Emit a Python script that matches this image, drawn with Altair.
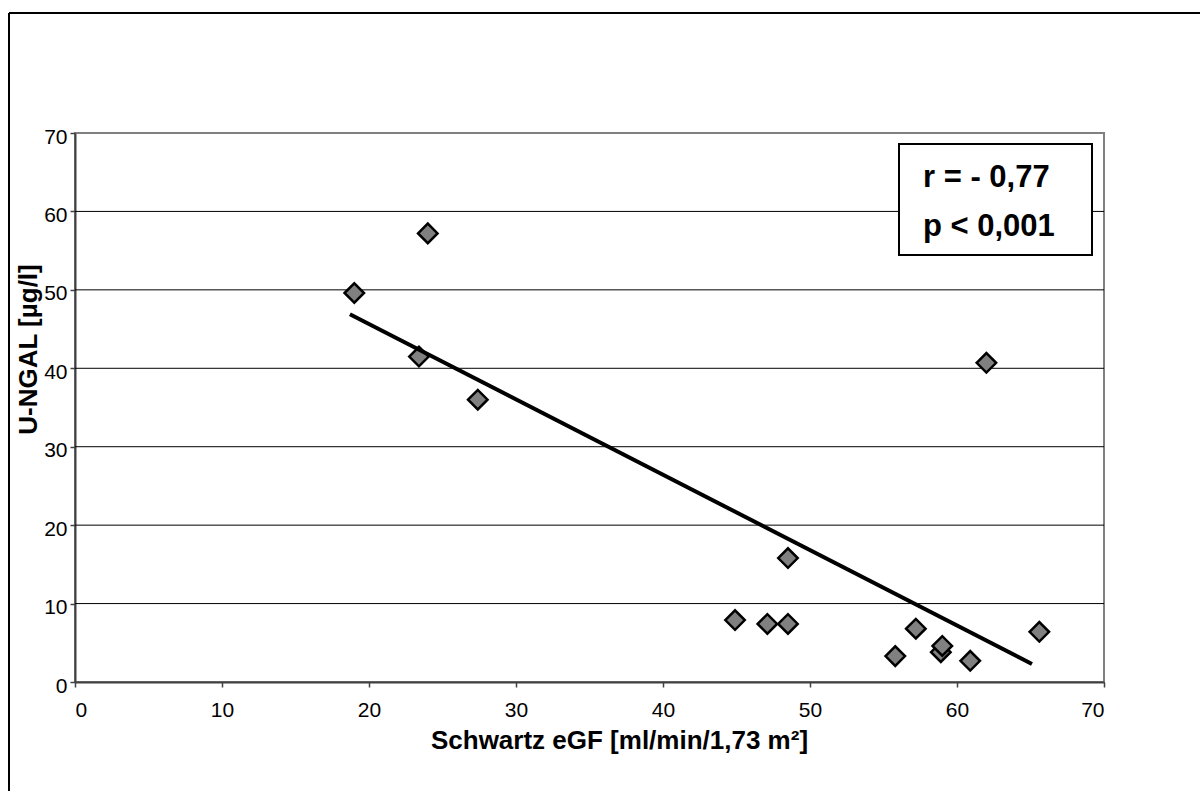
import altair as alt
import pandas as pd

# Data
egf = [19.0, 24.0, 23.4, 27.4, 44.9, 47.1, 48.5, 48.5, 55.8, 57.2, 58.9, 59.0, 60.9, 62.0, 65.6]
ngal = [49.6, 57.2, 41.5, 36.0, 7.9, 7.4, 7.4, 15.8, 3.3, 6.8, 3.8, 4.6, 2.7, 40.7, 6.4]
trend_x = [18.7, 65.1]
trend_y = [46.9, 2.3]
grid_levels = [10, 20, 30, 40, 50, 60]
tick_values = [0, 10, 20, 30, 40, 50, 60, 70]
stat_lines = ["r = - 0,77", "p < 0,001"]

FONT = "Liberation Sans"
W, H = 1029, 549

pts = pd.DataFrame({"x": egf, "y": ngal})
trend = pd.DataFrame({"x": trend_x, "y": trend_y})
grid = pd.DataFrame({"y": grid_levels})
one = pd.DataFrame({"a": [0]})

xscale = alt.Scale(domain=[0, 70], nice=False, zero=False)
yscale = alt.Scale(domain=[0, 70], nice=False, zero=False)

xaxis = alt.Axis(
    values=tick_values, grid=False, domainColor="#404040", domainWidth=2,
    tickColor="#404040", tickSize=5, tickWidth=1.5,
    labelFont=FONT, labelFontSize=21, labelColor="black", labelPadding=12,
    title="Schwartz eGF [ml/min/1,73 m²]", titleFont=FONT, titleFontSize=26,
    titleFontWeight="bold", titleColor="black", titleX=544, titleY=66,
    titleAlign="center", titleBaseline="alphabetic",
)
yaxis = alt.Axis(
    values=tick_values, grid=False, domainColor="#404040", domainWidth=2,
    tickColor="#404040", tickSize=5, tickWidth=1.5,
    labelFont=FONT, labelFontSize=21, labelColor="black", labelPadding=3,
    labelOffset=4,
    title="U-NGAL [µg/l]", titleFont=FONT, titleFontSize=26,
    titleFontWeight="bold", titleColor="black", titleAngle=270,
    titleX=-47, titleY=216, titleAlign="center", titleBaseline="middle",
)

gridlines = alt.Chart(grid).mark_rule(color="black", strokeWidth=1).encode(
    y=alt.Y("y:Q", scale=yscale, axis=yaxis)
)

points = alt.Chart(pts).mark_point(
    shape="diamond", filled=True, fill="#808080", stroke="black",
    strokeWidth=2.5, size=380, opacity=1
).encode(
    x=alt.X("x:Q", scale=xscale, axis=xaxis),
    y=alt.Y("y:Q", scale=yscale, axis=yaxis),
)

line = alt.Chart(trend).mark_line(color="black", strokeWidth=4).encode(
    x=alt.X("x:Q", scale=xscale),
    y=alt.Y("y:Q", scale=yscale),
)

box = alt.Chart(one).mark_rect(fill="white", stroke="black", strokeWidth=2).encode(
    x=alt.value(824), x2=alt.value(1017), y=alt.value(11), y2=alt.value(122)
)

t1 = alt.Chart(one).mark_text(
    text=stat_lines[0], align="left", baseline="alphabetic",
    font=FONT, fontSize=31, fontWeight="bold", color="black"
).encode(x=alt.value(848), y=alt.value(54))
t2 = alt.Chart(one).mark_text(
    text=stat_lines[1], align="left", baseline="alphabetic",
    font=FONT, fontSize=31, fontWeight="bold", color="black"
).encode(x=alt.value(848), y=alt.value(103))

frame_left = alt.Chart(one).mark_rule(color="black", strokeWidth=2).encode(
    x=alt.value(-66), y=alt.value(-120), y2=alt.value(700)
)
frame_top = alt.Chart(one).mark_rule(color="black", strokeWidth=2).encode(
    x=alt.value(-66), x2=alt.value(1200), y=alt.value(-120)
)

chart = alt.layer(
    gridlines, points, line, box, t1, t2, frame_left, frame_top
).properties(
    width=W, height=H,
    autosize=alt.AutoSizeParams(type="none"),
    padding={"left": 75, "top": 133, "right": 96, "bottom": 109},
    background="white",
).configure_view(stroke="#808080", strokeWidth=2)

chart.save("out.html", embed_options={"renderer": "svg", "actions": False})
